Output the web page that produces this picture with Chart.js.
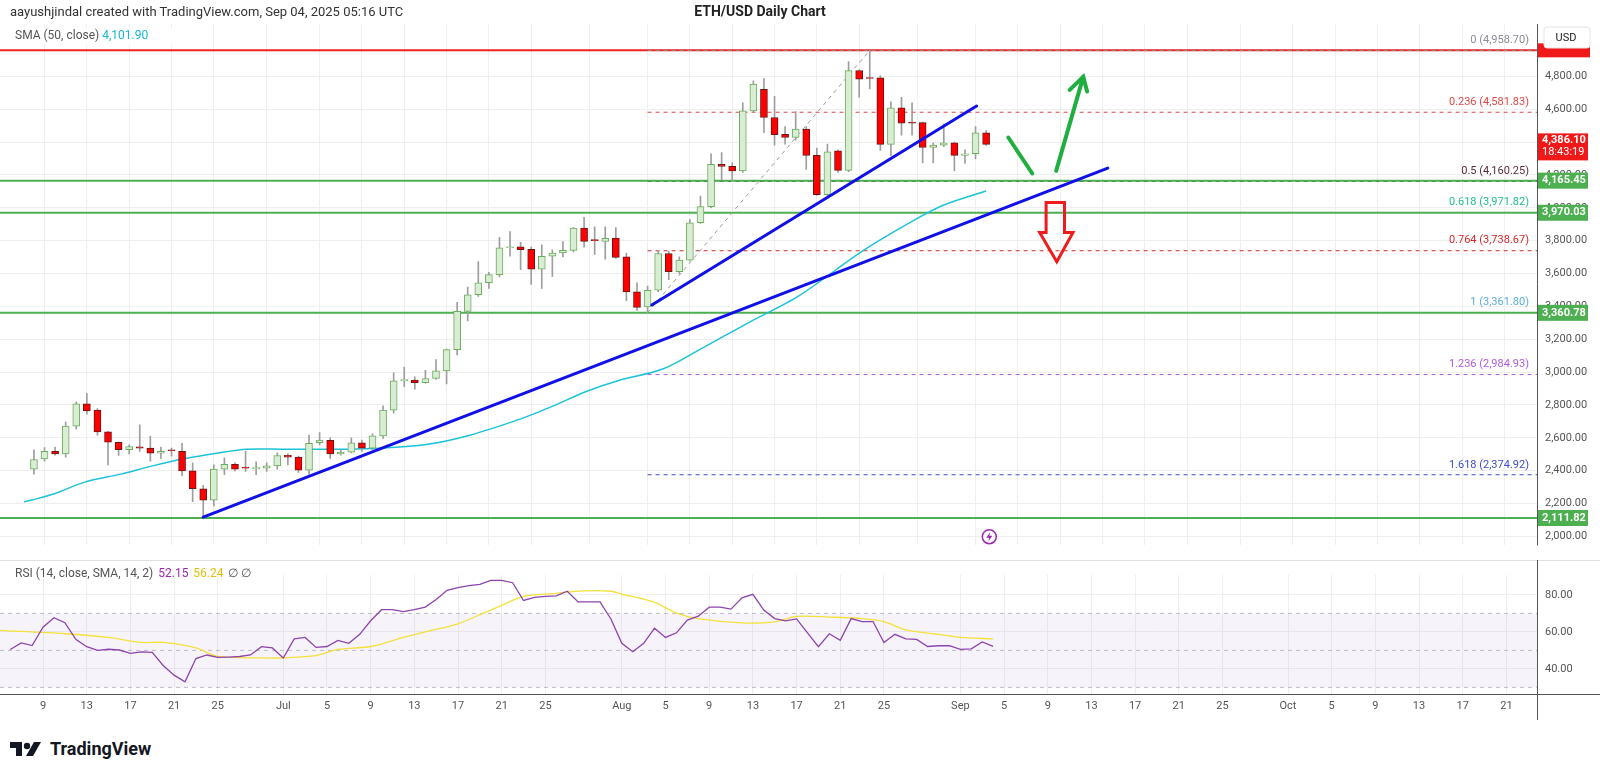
<!DOCTYPE html>
<html><head><meta charset="utf-8">
<script src="https://cdn.jsdelivr.net/npm/chart.js@4.4.1/dist/chart.umd.min.js"></script>
<style>
html,body{margin:0;padding:0;background:#fff;width:1600px;height:770px;overflow:hidden;font-family:Roboto,"Noto Sans",sans-serif;}
#c1{position:absolute;left:0;top:0;}
#c2{position:absolute;left:0;top:560px;}
#hdr{position:absolute;left:10px;top:4px;font-size:13px;color:#333;}
#ttl{position:absolute;left:0;width:1520px;top:3px;text-align:center;font-size:14px;font-weight:bold;color:#222;}
#logo{position:absolute;left:10px;top:738px;display:flex;align-items:center;gap:6px;font-size:18px;font-weight:bold;color:#131722;}
</style></head><body>
<canvas id="c1" width="1600" height="560"></canvas>
<canvas id="c2" width="1600" height="160"></canvas>
<div id="hdr">aayushjindal created with TradingView.com, Sep 04, 2025 05:16 UTC</div>
<div id="ttl">ETH/USD Daily Chart</div>
<div id="logo"><svg width="34" height="18" viewBox="0 0 34 18"><path d="M0 2h12v14H6V8H0z" fill="#131722"/><circle cx="17" cy="6" r="3.2" fill="#131722"/><path d="M24 2h7l-8 14h-7z" fill="#131722"/></svg><span>TradingView</span></div>
<script>
// ---- data (day index = days since Jun 1, 2025) ----
const firstDay = 5; // Jun 6
const opens  = [2409,2472,2517,2502,2671,2807,2768,2636,2573,2527,2545,2537,2506,2525,2517,2399,2290,2221,2409,2438,2419,2411,2415,2429,2494,2482,2403,2571,2584,2502,2513,2569,2537,2612,2768,2947,2951,2936,2961,3007,3137,3370,3471,3544,3593,3757,3763,3747,3626,3705,3725,3741,3877,3804,3796,3816,3702,3488,3396,3498,3721,3612,3682,3909,4007,4264,4252,4224,4590,4722,4550,4448,4428,4479,4319,4080,4347,4228,4836,4791,4791,4386,4609,4519,4519,4367,4382,4396,4319,4329,4457];
const highs  = [2527,2541,2543,2695,2819,2869,2778,2640,2575,2557,2679,2610,2543,2537,2567,2448,2310,2435,2478,2448,2517,2454,2448,2508,2502,2488,2616,2632,2600,2527,2600,2586,2624,2794,2995,3030,2971,3011,3076,3140,3425,3518,3672,3607,3820,3856,3790,3761,3775,3745,3794,3879,3942,3885,3885,3879,3725,3544,3524,3741,3735,3701,3928,4071,4329,4337,4274,4639,4773,4787,4678,4495,4586,4495,4363,4388,4353,4890,4840,4959,4803,4645,4673,4639,4522,4396,4511,4400,4353,4495,4470];
const lows   = [2379,2458,2494,2482,2652,2744,2616,2435,2492,2502,2517,2458,2474,2488,2369,2211,2122,2186,2375,2399,2395,2375,2395,2409,2435,2389,2379,2557,2474,2494,2508,2517,2527,2596,2750,2912,2896,2932,2955,2928,3105,3311,3461,3510,3579,3705,3623,3534,3510,3583,3701,3731,3761,3717,3688,3692,3435,3376,3362,3490,3563,3599,3680,3905,4000,4171,4165,4215,4580,4457,4382,4388,4412,4234,4075,4070,4215,4220,4673,4724,4349,4317,4442,4442,4274,4274,4373,4225,4270,4298,4380];
const closes = [2468,2517,2502,2671,2807,2764,2636,2573,2527,2547,2537,2506,2517,2521,2399,2290,2221,2409,2438,2409,2415,2419,2429,2492,2482,2403,2566,2586,2502,2513,2569,2537,2612,2768,2947,2955,2936,2961,3007,3137,3370,3471,3544,3593,3757,3763,3745,3626,3705,3725,3741,3877,3796,3800,3814,3698,3488,3393,3498,3721,3612,3682,3909,4007,4264,4252,4224,4590,4753,4550,4446,4428,4479,4319,4080,4341,4228,4836,4783,4787,4386,4609,4515,4515,4367,4382,4396,4319,4329,4457,4386];
const rsiVals = [50.5,54,52.6,62.5,67.7,65,56,52,50,50.6,50.2,48.4,49.2,48.9,41.8,36.6,33,45.6,47.5,46.2,46.4,46.7,47.5,52,51.3,45.9,56.2,57,51.6,52.1,55.4,53.8,58.7,66,72,72,71,72,73.4,77.5,82.5,84,85,85.7,87.9,87.9,86.6,77,78.7,79.2,79.5,82,76.2,76.2,76.2,67,53.8,49.3,53.8,62,57,59.5,66.4,68.5,73.4,73.4,72.3,78.4,80.3,71.8,67.2,66,67,59.5,52,59,55.4,67.2,65.6,65.6,54.3,58.7,56.2,55.9,52.1,52.5,52.6,50.5,50.8,54.6,52.15];
const smaDays = [4.06,4.8,7,9.8,13.2,16.2,19.3,22.4,25.1,28.5,31.5,34.6,37.7,41.9,46.2,51,54.1,57.2,60.2,64.5,68,72.7,77.3,83.4,88,91,95];
const smaVals = [2210,2221,2261,2330,2379,2429,2474,2508,2531,2531,2531,2531,2537,2557,2616,2715,2794,2882,2947,3020,3140,3306,3464,3741,3918,4017,4101.9];
const rsiSmaDays = [4.06,10,14,17,19,22,24,28,30,33,35,38,41,43,46,48,50,52,55,57,60,61,64,66,68,72,75,77,80,83,85,87,90,92,95];
const rsiSmaVals = [60.8,59,57,54.3,54.3,51.3,46.7,45.9,46,47.2,50.5,52.1,57,60,64.4,69.3,74.3,79.2,80.8,82.1,82,80.5,76,70.2,67.2,64.9,65.4,68.4,68,67.2,65.6,61.1,58.7,57,56.24];
const tickDays = [8,12,16,20,24,30,34,38,42,46,50,54,61,65,69,73,77,81,85,92,96,100,104,108,112,116,122,126,130,134,138,142];
const tickLabels = ['9','13','17','21','25','Jul','5','9','13','17','21','25','Aug','5','9','13','17','21','25','Sep','5','9','13','17','21','25','Oct','5','9','13','17','21'];
const priceTicks = [2000,2200,2400,2600,2800,3000,3200,3400,3600,3800,4000,4200,4400,4600,4800];
const rsiTicks = [40,60,80];
const supportLevels = [4165.45,3970.03,3360.78,2111.82];
const athLevel = 4958.70;
const fibRatios = ['0','0.236','0.5','0.618','0.764','1','1.236','1.618'];
const fibPrices = [4958.70,4581.83,4160.25,3971.82,3738.67,3361.80,2984.93,2374.92];
const fibColors = ['#8a8d96','#e04848','#5a2c3c','#22c08e','#d42a2a','#5aaee0','#b05ce6','#3f4fc8'];
const fibStartDay = 63;
const fibDiag = [[63,3361.8],[84,4958.7]];
const trendLines = [[[21,2117],[106.5,4242]],[[63.4,3409],[94.1,4620]]];
const greenStroke = [[97.1,4428],[99.36,4209]];
const greenArrow = [[101.62,4225],[104.18,4797],[102.9,4718],[104.55,4708]];
const redArrow = {x1:100.67,x2:102.41,top:4033,base:3850,hx1:100.06,hx2:103.21,tipX:101.68,tip:3672};
const lastPrice = 4386.10, countdown = '18:43:19';
const smaLast = 4101.90, rsiLast = 52.15, rsiSmaLast = 56.24;

const days = opens.map((_, i) => firstDay + i);
const fmt = v => v.toLocaleString('en-US',{minimumFractionDigits:2,maximumFractionDigits:2});
const XMIN = 4.06, XMAX = 144.8;
const isUp = days.map((_, i) => closes[i] >= opens[i]);

function setW(s){ s.width = 63; }
const gridC = '#efefef';

const pricePlugin = {
  id:'pp',
  beforeDatasetsDraw(ch){
    const c=ch.ctx, a=ch.chartArea, X=v=>ch.scales.x.getPixelForValue(v), Y=v=>ch.scales.y.getPixelForValue(v);
    c.save();
    c.beginPath(); c.rect(a.left,a.top,a.right-a.left,a.bottom-a.top); c.clip();
    // red ATH line
    c.strokeStyle='#f02020'; c.lineWidth=2; c.beginPath(); c.moveTo(a.left,Y(athLevel)); c.lineTo(a.right,Y(athLevel)); c.stroke();
    // fib dashed
    fibPrices.forEach((p,i)=>{ c.strokeStyle=fibColors[i]; c.lineWidth=1; c.setLineDash([4,4]);
      c.beginPath(); c.moveTo(X(fibStartDay),Y(p)); c.lineTo(a.right,Y(p)); c.stroke(); });
    c.setLineDash([]);
    // green support
    supportLevels.forEach(p=>{ c.strokeStyle='#4caf50'; c.lineWidth=2; c.beginPath(); c.moveTo(a.left,Y(p)); c.lineTo(a.right,Y(p)); c.stroke(); });
    // fib diag
    c.strokeStyle='#9a9a9a'; c.lineWidth=1; c.setLineDash([4,4]);
    c.beginPath(); c.moveTo(X(fibDiag[0][0]),Y(fibDiag[0][1])); c.lineTo(X(fibDiag[1][0]),Y(fibDiag[1][1])); c.stroke();
    c.setLineDash([]);
    // fib labels
    c.font='11px Roboto'; c.textAlign='right'; c.textBaseline='middle';
    fibPrices.forEach((p,i)=>{ c.fillStyle=fibColors[i]; c.fillText(fibRatios[i]+' ('+fmt(p)+')', a.right-8, Y(p)-10); });
    c.restore();
  },
  afterDatasetsDraw(ch){
    const c=ch.ctx, a=ch.chartArea, X=v=>ch.scales.x.getPixelForValue(v), Y=v=>ch.scales.y.getPixelForValue(v);
    c.save();
    c.beginPath(); c.rect(a.left,a.top,a.right-a.left,a.bottom-a.top); c.clip();
    c.strokeStyle='#1010e8'; c.lineWidth=3; c.lineCap='round';
    trendLines.forEach(t=>{ c.beginPath(); c.moveTo(X(t[0][0]),Y(t[0][1])); c.lineTo(X(t[1][0]),Y(t[1][1])); c.stroke(); });
    c.strokeStyle='#1fae3f'; c.lineWidth=4;
    c.beginPath(); c.moveTo(X(greenStroke[0][0]),Y(greenStroke[0][1])); c.lineTo(X(greenStroke[1][0]),Y(greenStroke[1][1])); c.stroke();
    const g=greenArrow;
    c.beginPath(); c.moveTo(X(g[0][0]),Y(g[0][1])); c.lineTo(X(g[1][0]),Y(g[1][1])); c.stroke();
    c.beginPath(); c.moveTo(X(g[2][0]),Y(g[2][1])); c.lineTo(X(g[1][0]),Y(g[1][1])); c.lineTo(X(g[3][0]),Y(g[3][1])); c.stroke();
    const r=redArrow; c.strokeStyle='#ee1c1c'; c.lineWidth=3; c.lineJoin='miter';
    c.beginPath(); c.moveTo(X(r.x1),Y(r.top)); c.lineTo(X(r.x2),Y(r.top)); c.lineTo(X(r.x2),Y(r.base)); c.lineTo(X(r.hx2),Y(r.base));
    c.lineTo(X(r.tipX),Y(r.tip)); c.lineTo(X(r.hx1),Y(r.base)); c.lineTo(X(r.x1),Y(r.base)); c.closePath(); c.stroke();
    // lightning icon
    const ix=X(95.3), iy=Y(1998);
    c.strokeStyle='#9c27b0'; c.lineWidth=1.5; c.beginPath(); c.arc(ix,iy,7,0,Math.PI*2); c.stroke();
    c.fillStyle='#9c27b0'; c.beginPath(); c.moveTo(ix+1,iy-5); c.lineTo(ix-3,iy+1); c.lineTo(ix,iy+1); c.lineTo(ix-1,iy+5); c.lineTo(ix+3,iy-1); c.lineTo(ix,iy-1); c.closePath(); c.fill();
    c.restore();
    // legend
    c.save(); c.font='12px Roboto'; c.textBaseline='middle'; c.textAlign='left';
    const t1='SMA (50, close) '; c.fillStyle='rgba(255,255,255,0.9)'; c.fillRect(8,28,180,17);
    c.fillStyle='#555'; c.fillText(t1,15,36); c.fillStyle='#14b8d0'; c.fillText(fmt(smaLast),15+c.measureText(t1).width,36);
    c.restore();
  },
  afterDraw(ch){
    const c=ch.ctx, a=ch.chartArea, Y=v=>ch.scales.y.getPixelForValue(v);
    c.save();
    c.strokeStyle='#555'; c.lineWidth=1; c.beginPath(); c.moveTo(a.right+0.5,a.top); c.lineTo(a.right+0.5,a.bottom); c.stroke();
    const L=a.right+1, W=52;
    c.fillStyle='#f01818'; c.fillRect(L,Y(athLevel)-7,W,14);
    c.fillStyle='#fff'; c.strokeStyle='#e4e4e4'; c.beginPath(); c.roundRect(L+6,27,W-6,21,3); c.fill(); c.stroke();
    c.fillStyle='#222'; c.font='11px Roboto'; c.textAlign='center'; c.textBaseline='middle'; c.fillText('USD',L+28,38);
    // last price tag
    const yl=Y(lastPrice); c.fillStyle='#f01818'; c.fillRect(L,yl-11,W-2,27);
    c.fillStyle='#fff'; c.font='bold 11px Roboto'; c.textAlign='left'; c.fillText(fmt(lastPrice),L+4,yl-4); c.font='11px Roboto'; c.fillText(countdown,L+4,yl+8);
    supportLevels.forEach(p=>{ const y=Y(p); c.fillStyle='#4caf50'; c.fillRect(L,y-8,W-2,16); c.fillStyle='#fff'; c.font='bold 11px Roboto'; c.fillText(fmt(p),L+4,y); });
    c.restore();
  }
};

new Chart(document.getElementById('c1'),{
  type:'bar',
  data:{datasets:[
    {type:'line',data:smaDays.map((d,i)=>({x:d,y:smaVals[i]})),borderColor:'#1cc3d8',borderWidth:1.5,pointRadius:0,tension:0.3,order:3},
    {data:days.map((d,i)=>({x:d,y:[lows[i],highs[i]]})),backgroundColor:'#9e9e9e',barThickness:1,grouped:false,order:2},
    {data:days.map((d,i)=>({x:d,y:[opens[i],closes[i]]})),backgroundColor:isUp.map(u=>u?'#d9ecd4':'#ff0000'),borderColor:isUp.map(u=>u?'#6cad5c':'#6b1515'),borderWidth:1,borderSkipped:false,barThickness:7,minBarLength:1,grouped:false,order:1}
  ]},
  options:{responsive:false,animation:false,devicePixelRatio:1,
    layout:{padding:{top:24,left:0,right:0,bottom:0}},
    plugins:{legend:{display:false},tooltip:{enabled:false}},
    scales:{
      x:{type:'linear',min:XMIN,max:XMAX,ticks:{display:false},grid:{color:gridC,drawTicks:false},border:{display:false},
         afterBuildTicks:s=>{s.ticks=tickDays.map(v=>({value:v}));},afterFit:s=>{s.height=0;}},
      y:{position:'right',min:1945,max:5119,grid:{color:gridC,drawTicks:false},border:{display:false},
         ticks:{color:'#555',font:{size:11,family:'Roboto'},padding:8,callback:v=>fmt(v)},
         afterBuildTicks:s=>{s.ticks=priceTicks.map(v=>({value:v}));},afterFit:setW}
    }},
  plugins:[pricePlugin]
});

const rsiPlugin = {
  id:'rp',
  beforeDatasetsDraw(ch){
    const c=ch.ctx,a=ch.chartArea,Y=v=>ch.scales.y.getPixelForValue(v);
    c.save(); c.fillStyle='rgba(126,87,194,0.07)'; c.fillRect(a.left,Y(70),a.right-a.left,Y(30)-Y(70));
    c.strokeStyle='#b9bcc4'; c.lineWidth=1; c.setLineDash([4,4]);
    [70,50,30].forEach(v=>{c.beginPath();c.moveTo(a.left,Y(v));c.lineTo(a.right,Y(v));c.stroke();});
    c.restore();
  },
  afterDraw(ch){
    const c=ch.ctx,a=ch.chartArea; c.save();
    c.strokeStyle='#e0e0e0'; c.lineWidth=1; c.beginPath(); c.moveTo(0,0.5); c.lineTo(1600,0.5); c.stroke();
    c.strokeStyle='#555'; c.beginPath(); c.moveTo(a.right+0.5,0); c.lineTo(a.right+0.5,a.bottom+26); c.moveTo(0,a.bottom+0.5); c.lineTo(1600,a.bottom+0.5); c.stroke();
    c.font='12px Roboto'; c.textBaseline='middle'; c.textAlign='left';
    let x=15; const y=14;
    const parts=[['RSI (14, close, SMA, 14, 2) ','#555'],[rsiLast.toFixed(2)+' ','#9c27b0'],[rsiSmaLast.toFixed(2)+' ','#e0c010'],['∅ ∅','#555']];
    parts.forEach(p=>{c.fillStyle=p[1];c.fillText(p[0],x,y);x+=c.measureText(p[0]).width+2;});
    c.restore();
  }
};

new Chart(document.getElementById('c2'),{
  type:'line',
  data:{datasets:[
    {data:days.map((d,i)=>({x:d,y:rsiVals[i]})),borderColor:'#8e44ad',borderWidth:1.3,pointRadius:0,tension:0},
    {data:rsiSmaDays.map((d,i)=>({x:d,y:rsiSmaVals[i]})),borderColor:'#f5e03a',borderWidth:1.3,pointRadius:0,tension:0.3}
  ]},
  options:{responsive:false,animation:false,devicePixelRatio:1,
    layout:{padding:0},
    plugins:{legend:{display:false},tooltip:{enabled:false}},
    scales:{
      x:{type:'linear',min:XMIN,max:XMAX,grid:{color:gridC,drawTicks:false},border:{display:false},
         ticks:{color:'#555',font:{size:11,family:'Roboto'},padding:6,maxRotation:0,autoSkip:false,callback:v=>{const k=tickDays.indexOf(v);return k>=0?tickLabels[k]:'';}},
         afterBuildTicks:s=>{s.ticks=tickDays.map(v=>({value:v}));},afterFit:s=>{s.height=26;}},
      y:{position:'right',min:26.4,max:91,grid:{color:gridC,drawTicks:false},border:{display:false},
         ticks:{color:'#555',font:{size:11,family:'Roboto'},padding:8,callback:v=>v.toFixed(2)},
         afterBuildTicks:s=>{s.ticks=rsiTicks.map(v=>({value:v}));},afterFit:setW}
    }},
  plugins:[rsiPlugin]
});
</script></body></html>
